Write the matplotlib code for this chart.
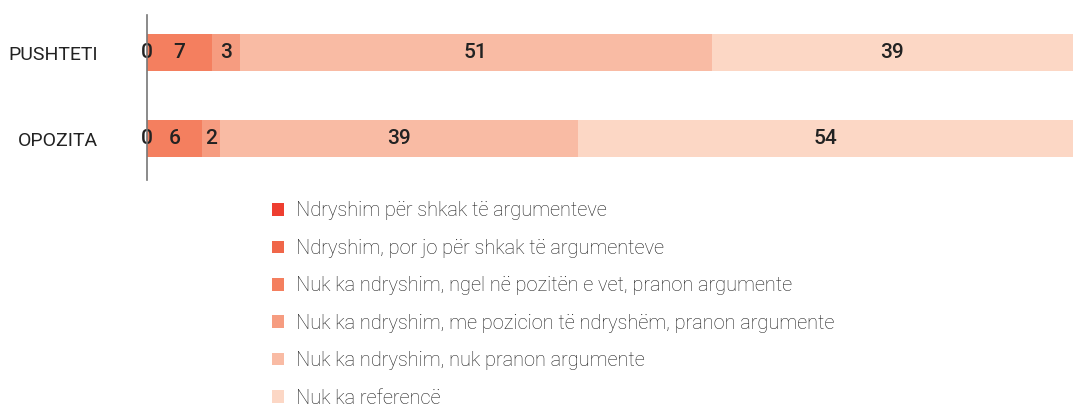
import matplotlib
matplotlib.use("Agg")
import matplotlib.pyplot as plt
import numpy as np

plt.rcParams['font.family'] = ['Roboto', 'DejaVu Sans']

categories = ['PUSHTETI', 'OPOZITA']
series = [
    'Ndryshim për shkak të argumenteve',
    'Ndryshim, por jo për shkak të argumenteve',
    'Nuk ka ndryshim, ngel në pozitën e vet, pranon argumente',
    'Nuk ka ndryshim, me pozicion të ndryshëm, pranon argumente',
    'Nuk ka ndryshim, nuk pranon argumente',
    'Nuk ka referencë',
]
# values per series: [PUSHTETI, OPOZITA]
ndryshim_arg = [0, 0]
ndryshim_jo_arg = [0, 0]
ngel_pranon = [7, 6]
pozicion_pranon = [3, 2]
nuk_pranon = [51, 39]
pa_reference = [39, 54]
colors = ['#ee3e30', '#f06649', '#f47f5f', '#f69c80', '#f9bba4', '#fcd7c5']

values = np.array([ndryshim_arg, ndryshim_jo_arg, ngel_pranon,
                   pozicion_pranon, nuk_pranon, pa_reference], dtype=float)
# each bar is drawn as share of its own total (bars fill the full width)
shares = values / values.sum(axis=0) * 100

fig = plt.figure(figsize=(10.73, 4.08), dpi=100)
ax = fig.add_axes([147 / 1073, 1 - 180 / 408, 926 / 1073, 165 / 408])

y = np.arange(len(categories))
left = np.zeros(len(categories))
handles = []
for i, name in enumerate(series):
    bars = ax.barh(y, shares[i], left=left, height=0.43, color=colors[i],
                   label=name, linewidth=0)
    handles.append(bars)
    for j in range(len(categories)):
        if i == 0:
            continue
        ax.text(left[j] + shares[i][j] / 2, y[j], f'{int(values[i][j])}',
                ha='center', va='center', fontsize=15, color='#222222',
                fontweight='medium')
    left += shares[i]

ax.set_xlim(0, 100)
ax.set_ylim(1.477, -0.44)
ax.set_yticks(y)
ax.set_yticklabels(categories, fontsize=14, color='#222222')
ax.tick_params(axis='y', length=0, pad=35)
ax.set_xticks([])
for s in ['top', 'right', 'bottom']:
    ax.spines[s].set_visible(False)
ax.spines['left'].set_color('#777777')
ax.spines['left'].set_linewidth(1.2)
ax.spines['left'].set_zorder(5)

leg = fig.legend(handles=handles, labels=series, loc='upper left',
                 bbox_to_anchor=(272 / 1073, 1 - 201.5 / 408), frameon=False,
                 fontsize=14.4, handlelength=0.6, handleheight=0.6,
                 handletextpad=0.62, labelspacing=0.92, borderpad=0,
                 borderaxespad=0)
for t in leg.get_texts():
    t.set_color('#1e1e1e')
    t.set_fontweight('light')

fig.savefig('out.png', dpi=100)
